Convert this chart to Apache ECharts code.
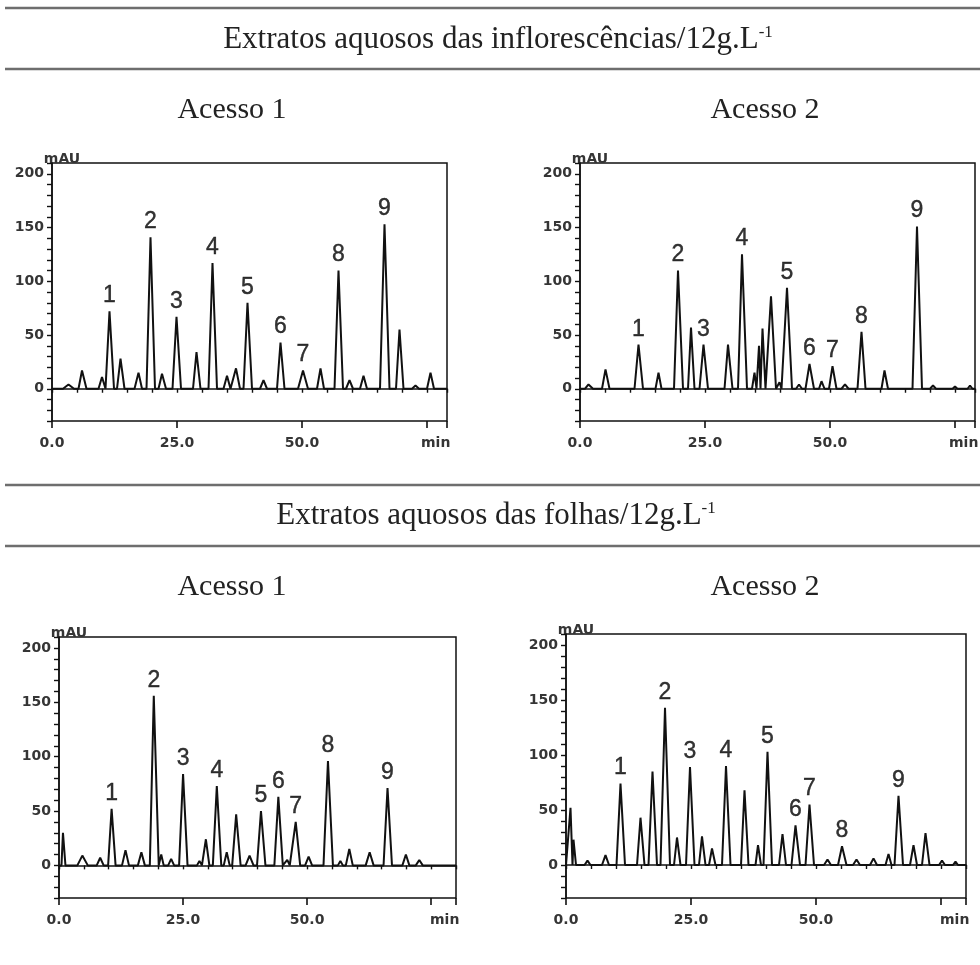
<!DOCTYPE html>
<html>
<head>
<meta charset="utf-8">
<script src="https://cdn.jsdelivr.net/npm/echarts@6/dist/echarts.min.js"></script>
<style>
html, body { margin: 0; padding: 0; background: #fff; }
#chart { width: 980px; height: 965px; }
</style>
</head>
<body>
<div id="chart"></div>
<script>
// each peak: [start min, apex min, apex mAU, end min]
const inflA1Peaks = [
  [2.2, 3.3, 4, 4.4], [5.3, 6.0, 17, 6.9], [9.3, 10.0, 11, 10.7], [10.8, 11.5, 72, 12.4],
  [13.0, 13.7, 28, 14.5], [16.5, 17.3, 15, 18.0], [18.9, 19.7, 141, 20.6], [21.3, 22.0, 14, 22.8],
  [24.1, 24.9, 67, 25.8], [28.2, 28.9, 34, 29.7], [31.3, 32.1, 117, 33.0], [34.3, 35.0, 12, 35.7],
  [36.1, 36.8, 19, 37.6], [38.3, 39.1, 80, 40.0], [41.6, 42.3, 8, 43.0], [45.0, 45.7, 43, 46.5],
  [49.2, 50.2, 17, 51.2], [53.0, 53.7, 19, 54.4], [56.5, 57.3, 110, 58.2], [58.8, 59.5, 8, 60.2],
  [61.6, 62.3, 12, 63.0], [65.6, 66.5, 153, 67.5], [68.8, 69.5, 55, 70.3], [72.0, 72.7, 3, 73.4],
  [75.0, 75.7, 15, 76.4]
];
const inflA2Peaks = [
  [1.0, 1.7, 4, 2.6], [4.4, 5.1, 18, 5.9], [10.9, 11.7, 41, 12.6], [15.1, 15.7, 15, 16.3],
  [18.8, 19.6, 110, 20.6], [21.6, 22.2, 57, 22.9], [23.9, 24.7, 41, 25.6], [28.9, 29.6, 41, 30.5],
  [31.6, 32.4, 125, 33.4], [34.4, 34.9, 15, 35.3], [35.3, 35.8, 40, 36.1], [36.1, 36.5, 56, 37.1],
  [37.4, 38.2, 86, 39.2], [39.5, 39.9, 6, 40.3], [40.6, 41.4, 94, 42.4], [43.2, 43.8, 4, 44.4],
  [45.1, 45.9, 23, 46.8], [47.8, 48.3, 7, 48.9], [49.8, 50.5, 21, 51.3], [52.3, 53.0, 4, 53.7],
  [55.5, 56.3, 53, 57.1], [60.3, 60.9, 17, 61.6], [66.5, 67.4, 151, 68.4], [70.0, 70.6, 3, 71.2],
  [74.5, 75.0, 2, 75.5], [77.5, 78.0, 3, 78.5]
];
const folA1Peaks = [
  [0.5, 0.8, 30, 1.3], [3.7, 4.7, 9, 5.8], [7.6, 8.3, 7, 9.0], [9.9, 10.6, 52, 11.4],
  [12.7, 13.4, 14, 14.1], [15.9, 16.6, 12, 17.3], [18.3, 19.1, 156, 20.1], [20.2, 20.6, 10, 21.1],
  [22.0, 22.6, 6, 23.2], [24.2, 25.0, 84, 25.9], [27.8, 28.3, 4, 28.8], [29.0, 29.6, 24, 30.3],
  [31.0, 31.8, 73, 32.7], [33.2, 33.8, 12, 34.4], [34.9, 35.7, 47, 36.6], [37.6, 38.4, 9, 39.2],
  [39.9, 40.7, 50, 41.6], [43.4, 44.2, 63, 45.1], [45.5, 46.0, 5, 46.5], [46.9, 47.7, 40, 48.6],
  [49.6, 50.3, 8, 51.0], [53.3, 54.2, 96, 55.2], [56.2, 56.7, 4, 57.2], [57.8, 58.5, 15, 59.2],
  [61.8, 62.6, 12, 63.4], [65.4, 66.2, 71, 67.1], [69.2, 69.9, 10, 70.6], [71.9, 72.6, 5, 73.3]
];
const folA2Peaks = [
  [0.4, 0.9, 52, 1.3], [1.3, 1.5, 23, 2.0], [3.7, 4.3, 4, 4.9], [7.2, 7.9, 9, 8.6],
  [10.1, 10.9, 74, 11.8], [14.2, 14.9, 43, 15.7], [16.5, 17.3, 85, 18.2], [18.9, 19.8, 143, 20.8],
  [21.6, 22.2, 25, 22.9], [24.0, 24.8, 89, 25.7], [26.6, 27.2, 26, 27.9], [28.6, 29.2, 15, 29.9],
  [31.2, 32.0, 90, 32.9], [35.0, 35.7, 68, 36.5], [37.9, 38.4, 18, 39.0], [39.5, 40.3, 103, 41.2],
  [42.6, 43.3, 28, 44.0], [45.1, 45.9, 36, 46.8], [47.9, 48.7, 55, 49.6], [51.6, 52.3, 5, 53.0],
  [54.4, 55.2, 17, 56.1], [57.4, 58.1, 5, 58.8], [60.8, 61.5, 6, 62.2], [63.9, 64.5, 10, 65.1],
  [65.7, 66.5, 63, 67.4], [68.8, 69.5, 18, 70.2], [71.2, 71.9, 29, 72.7], [74.6, 75.2, 4, 75.8],
  [77.4, 77.9, 3, 78.4]
];

// numbered peaks: [min, mAU, label]
const inflA1Labels = [[11.5, 72, '1'], [19.7, 141, '2'], [24.9, 67, '3'], [32.1, 117, '4'], [39.1, 80, '5'],
  [45.7, 43, '6'], [50.2, 17, '7'], [57.3, 110, '8'], [66.5, 153, '9']];
const inflA2Labels = [[11.7, 41, '1'], [19.6, 110, '2'], [24.7, 41, '3'], [32.4, 125, '4'], [41.4, 94, '5'],
  [45.9, 23, '6'], [50.5, 21, '7'], [56.3, 53, '8'], [67.4, 151, '9']];
const folA1Labels = [[10.6, 52, '1'], [19.1, 156, '2'], [25.0, 84, '3'], [31.8, 73, '4'], [40.7, 50, '5'],
  [44.2, 63, '6'], [47.7, 40, '7'], [54.2, 96, '8'], [66.2, 71, '9']];
const folA2Labels = [[10.9, 74, '1'], [19.8, 143, '2'], [24.8, 89, '3'], [32.0, 90, '4'], [40.3, 103, '5'],
  [45.9, 36, '6'], [48.7, 55, '7'], [55.2, 17, '8'], [66.5, 63, '9']];

const xTickLabels = { 0: '0.0', 25: '25.0', 50: '50.0' };
const yTickLabels = [0, 50, 100, 150, 200];
const xMaxes = [79, 79, 80, 80];

const panels = [
  { peaks: inflA1Peaks, labels: inflA1Labels, grid: { left: 52, top: 163, width: 395, height: 258 } },
  { peaks: inflA2Peaks, labels: inflA2Labels, grid: { left: 580, top: 163, width: 395, height: 258 } },
  { peaks: folA1Peaks, labels: folA1Labels, grid: { left: 59, top: 637, width: 397, height: 261 } },
  { peaks: folA2Peaks, labels: folA2Labels, grid: { left: 566, top: 634, width: 400, height: 264 } }
];

function trace(peaks, xMax) {
  const pts = [[0, 0]];
  peaks.forEach(p => { pts.push([p[0], 0], [p[1], p[2]], [p[3], 0]); });
  pts.push([xMax, 0]);
  return pts;
}

const ink = '#111';
const tickFont = { fontFamily: 'DejaVu Sans', fontSize: 14, fontWeight: 'bold', color: '#353535' };
const serif = 'Liberation Serif';

const grids = [], xAxes = [], yAxes = [], series = [];
panels.forEach((p, i) => {
  const xMax = xMaxes[i];
  grids.push(Object.assign({ show: true, borderColor: ink, borderWidth: 1.5, backgroundColor: 'transparent' }, p.grid));
  // minor ticks every 5 min
  xAxes.push({
    type: 'value', gridIndex: i, position: 'bottom', min: 0, max: xMax, interval: 5,
    axisLine: { show: true, lineStyle: { color: ink, width: 1.5 } },
    axisTick: { show: true, length: 4, lineStyle: { color: ink, width: 1.4 } },
    axisLabel: { show: false }, splitLine: { show: false }
  });
  // major ticks + labels
  xAxes.push({
    type: 'value', gridIndex: i, position: 'bottom', min: 0, max: xMax, interval: 25,
    axisLine: { show: false },
    axisTick: { show: true, length: 7, lineStyle: { color: ink, width: 1.6 } },
    axisLabel: Object.assign({ margin: 15, formatter: v => xTickLabels[v] || '' }, tickFont),
    splitLine: { show: false },
    name: 'min', nameLocation: 'end', nameGap: -26,
    nameTextStyle: Object.assign({ align: 'left', verticalAlign: 'top', padding: [15, 0, 0, 0] }, tickFont)
  });
  yAxes.push({
    type: 'value', gridIndex: i, min: -30, max: 210, interval: 10,
    axisLine: { show: true, lineStyle: { color: ink, width: 1.5 } },
    axisTick: { show: true, length: 5, lineStyle: { color: ink, width: 1.4 } },
    axisLabel: Object.assign({ margin: 8, formatter: v => yTickLabels.includes(v) ? String(v) : '' }, tickFont),
    splitLine: { show: false },
    name: 'mAU', nameLocation: 'end', nameGap: -3,
    nameTextStyle: Object.assign({ align: 'center', padding: [0, 0, 0, 20] }, tickFont)
  });
  series.push({
    type: 'line', xAxisIndex: 2 * i, yAxisIndex: i,
    data: trace(p.peaks, xMax), showSymbol: false, symbol: 'none',
    lineStyle: { color: ink, width: 2 }, z: 3
  });
  series.push({
    type: 'scatter', xAxisIndex: 2 * i, yAxisIndex: i,
    data: p.labels, symbolSize: 2, itemStyle: { color: 'rgba(0,0,0,0)' },
    label: {
      show: true, position: 'top', distance: 3, formatter: d => d.data[2],
      fontFamily: 'Liberation Sans', fontSize: 23, color: '#000',
      textBorderColor: '#000', textBorderWidth: 0.4
    },
    z: 4
  });
});

const rule = y => ({
  type: 'line', shape: { x1: 5, y1: y, x2: 980, y2: y },
  style: { stroke: '#6e6e6e', lineWidth: 2.5 }
});
const heading = (x, y, text, size, sup) => ({
  type: 'text', x: x, y: y,
  style: {
    text: sup ? '{a|' + text + '}{s|-1}' : text,
    fontFamily: serif, fontSize: size, fill: '#222',
    align: 'center', verticalAlign: 'middle',
    rich: {
      a: { fontFamily: serif, fontSize: size, fill: '#222' },
      s: { fontFamily: serif, fontSize: 17, fill: '#222', verticalAlign: 'top' }
    }
  }
});

const option = {
  backgroundColor: '#fff',
  animation: false,
  grid: grids,
  xAxis: xAxes,
  yAxis: yAxes,
  series: series,
  graphic: [
    rule(8), rule(69), rule(485), rule(546),
    heading(498, 40, 'Extratos aquosos das inflorescências/12g.L', 31, true),
    heading(496, 516, 'Extratos aquosos das folhas/12g.L', 31, true),
    heading(232, 110, 'Acesso 1', 30),
    heading(765, 110, 'Acesso 2', 30),
    heading(232, 587, 'Acesso 1', 30),
    heading(765, 587, 'Acesso 2', 30)
  ]
};

const chart = echarts.init(document.getElementById('chart'));
chart.setOption(option);
</script>
</body>
</html>
